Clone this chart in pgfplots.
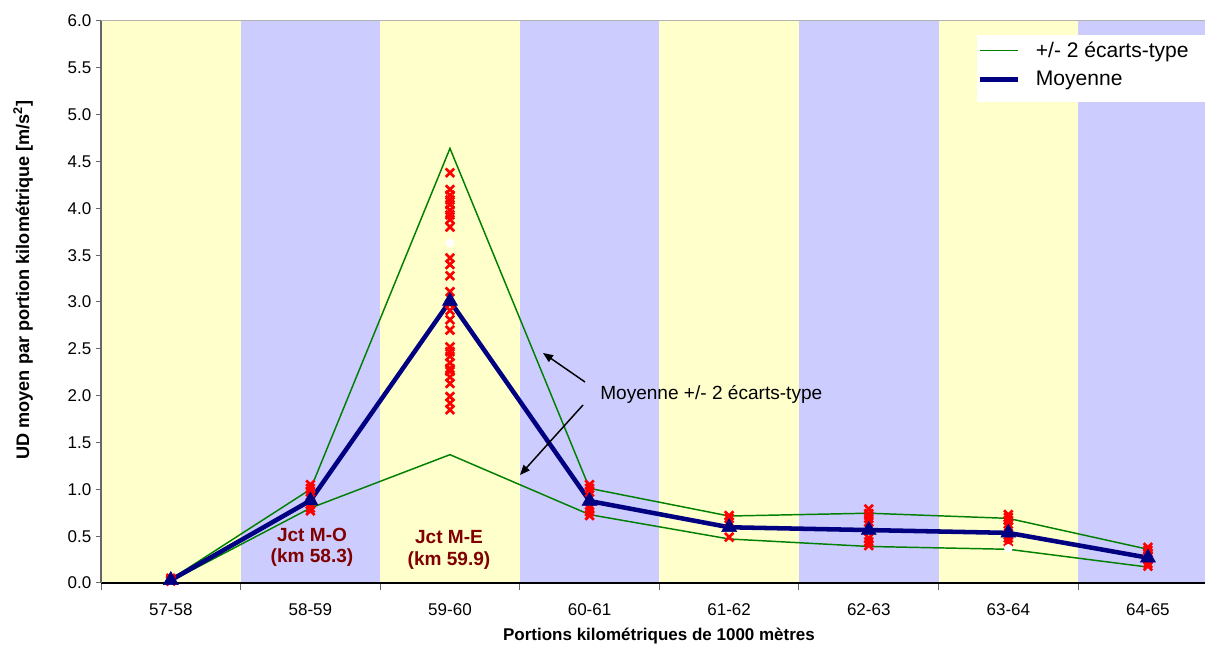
\documentclass[border=0pt]{standalone}
\usepackage{fontspec}
\setmainfont{Liberation Sans}
\usepackage{pgfplots}
\pgfplotsset{compat=1.18}
\usetikzlibrary{arrows.meta}
\definecolor{bgy}{HTML}{FFFFCC}
\definecolor{bgp}{HTML}{CCCCFF}
\definecolor{sdgreen}{HTML}{008000}
\definecolor{meanblue}{HTML}{000080}
\definecolor{lbl}{HTML}{800000}
\newcommand{\fs}{\fontsize{12.75}{15.3}\selectfont}
\newcommand{\fl}{\fontsize{15.8}{18}\selectfont}
\newcommand{\fa}{\fontsize{14.3}{17}\selectfont}
\begin{document}
\begin{tikzpicture}
\begin{axis}[
  at={(0pt,0pt)}, anchor=south west,
  scale only axis, width=828pt, height=421.5pt,
  xmin=-0.5, xmax=7.409, ymin=0, ymax=6,
  axis x line*=bottom, axis y line*=left,
  x axis line style={black, line width=1pt},
  y axis line style={black!60, line width=1pt},
  axis on top,
  xtick={0,...,7},
  xticklabels={57-58,58-59,59-60,60-61,61-62,62-63,63-64,64-65},
  minor xtick={-0.5,0.5,...,6.5},
  major x tick style={draw=none},
  minor x tick style={black!60, line width=0.75pt},
  minor tick length=5.25pt,
  ytick={0,0.5,...,6},
  major tick length=3.75pt,
  y tick style={black!60, line width=0.75pt},
  tick align=outside,
  y tick label style={/pgf/number format/.cd, fixed, fixed zerofill, precision=1},
  /pgf/number format/assume math mode=true,
  tick label style={font=\fs},
  xticklabel style={yshift=-8pt},
  legend style={at={(axis description cs:0.7935,0.9217)}, anchor=west, draw=none, fill=none, font=\fl, inner sep=0pt, row sep=5pt,
    /tikz/every odd column/.append style={column sep=10pt}},
  legend cell align=left,
  legend image code/.code={\draw[#1] (0pt,0pt) -- (28.5pt,0pt);},
]
% background bands
\addplot[fill=bgy, draw=none, forget plot] coordinates {(-0.5,0) (0.5,0) (0.5,6) (-0.5,6)} -- cycle;
\addplot[fill=bgp, draw=none, forget plot] coordinates {(0.5,0) (1.5,0) (1.5,6) (0.5,6)} -- cycle;
\addplot[fill=bgy, draw=none, forget plot] coordinates {(1.5,0) (2.5,0) (2.5,6) (1.5,6)} -- cycle;
\addplot[fill=bgp, draw=none, forget plot] coordinates {(2.5,0) (3.5,0) (3.5,6) (2.5,6)} -- cycle;
\addplot[fill=bgy, draw=none, forget plot] coordinates {(3.5,0) (4.5,0) (4.5,6) (3.5,6)} -- cycle;
\addplot[fill=bgp, draw=none, forget plot] coordinates {(4.5,0) (5.5,0) (5.5,6) (4.5,6)} -- cycle;
\addplot[fill=bgy, draw=none, forget plot] coordinates {(5.5,0) (6.5,0) (6.5,6) (5.5,6)} -- cycle;
\addplot[fill=bgp, draw=none, forget plot] coordinates {(6.5,0) (7.5,0) (7.5,6) (6.5,6)} -- cycle;
\draw[black!30, line width=0.75pt] (rel axis cs:0,1) -- (rel axis cs:1,1);
\fill[white] (axis description cs:0.7935,0.975) rectangle (axis description cs:1,0.8559);
% +/- 2 sd
\addplot[sdgreen, line width=1.1pt] coordinates {(0,0.04) (1,1.00) (2,4.64) (3,1.01) (4,0.715) (5,0.745) (6,0.69) (7,0.36)};
\addlegendentry{+/- 2 écarts-type}
\addplot[sdgreen, line width=1.1pt, forget plot] coordinates {(0,0.02) (1,0.80) (2,1.37) (3,0.73) (4,0.47) (5,0.39) (6,0.36) (7,0.17)};
% individual values
\addplot[only marks, mark=x, mark size=4.5pt, red, line width=2pt, forget plot] coordinates {
(0,0.03)(0,0.05)(0,0.02)
(1,1.05)(1,1.01)(1,0.97)(1,0.93)(1,0.84)(1,0.80)(1,0.77)
(2,4.38)(2,4.20)(2,4.14)(2,4.09)(2,4.04)(2,3.98)(2,3.93)(2,3.88)(2,3.80)(2,3.47)(2,3.40)(2,3.28)(2,3.11)(2,2.98)(2,2.91)(2,2.81)(2,2.70)(2,2.52)(2,2.47)(2,2.42)(2,2.35)(2,2.29)(2,2.26)(2,2.20)(2,2.13)(2,1.99)(2,1.92)(2,1.85)
(3,1.05)(3,1.01)(3,0.97)(3,0.80)(3,0.76)(3,0.72)
(4,0.72)(4,0.69)(4,0.65)(4,0.49)
(5,0.79)(5,0.74)(5,0.69)(5,0.65)(5,0.48)(5,0.44)(5,0.40)
(6,0.73)(6,0.70)(6,0.67)(6,0.63)(6,0.60)(6,0.48)(6,0.44)
(7,0.38)(7,0.35)(7,0.32)(7,0.29)(7,0.25)(7,0.21)(7,0.18)};
\addplot[only marks, mark=*, mark size=3pt, white, forget plot] coordinates {(2,3.63) (6,0.37)};
% mean
\addplot[meanblue, line width=3.4pt] coordinates {(0,0.03) (1,0.88) (2,3.01) (3,0.875) (4,0.595) (5,0.565) (6,0.535) (7,0.27)};
\addlegendentry{Moyenne}
\addplot[only marks, mark=triangle*, mark size=6.5pt, meanblue, forget plot] coordinates {(0,0.03) (1,0.88) (2,3.01) (3,0.875) (4,0.595) (5,0.565) (6,0.535) (7,0.27)};
\end{axis}
\begin{scope}[x=0.75pt, y=-0.75pt, shift={(-101,-583)}]
\draw[black, line width=1.1pt, -{Triangle[length=7.5pt, width=6pt]}] (585,382) -- (543,353);
\draw[black, line width=1.1pt, -{Triangle[length=7.5pt, width=6pt]}] (583,405) -- (520,475);
\node[anchor=west, font=\fa, inner sep=0pt] at (600,394) {Moyenne +/- 2 écarts-type};
\node[font=\fa\bfseries, text=lbl, inner sep=0pt] at (312,535) {Jct M-O};
\node[font=\fa\bfseries, text=lbl, inner sep=0pt] at (312,558) {(km 58.3)};
\node[font=\fa\bfseries, text=lbl, inner sep=0pt] at (449,537) {Jct M-E};
\node[font=\fa\bfseries, text=lbl, inner sep=0pt] at (449,561) {(km 59.9)};
\node[font=\fs\bfseries, inner sep=0pt] at (659,636) {Portions kilométriques de 1000 mètres};
\node[font=\fontsize{13.6}{16}\selectfont\bfseries, inner sep=0pt, rotate=90] at (23,280) {UD moyen par portion kilométrique [m/s\textsuperscript{2}]};
\pgfresetboundingbox
\path[use as bounding box] (0,0) rectangle (1205,645);
\end{scope}
\end{tikzpicture}
\end{document}
